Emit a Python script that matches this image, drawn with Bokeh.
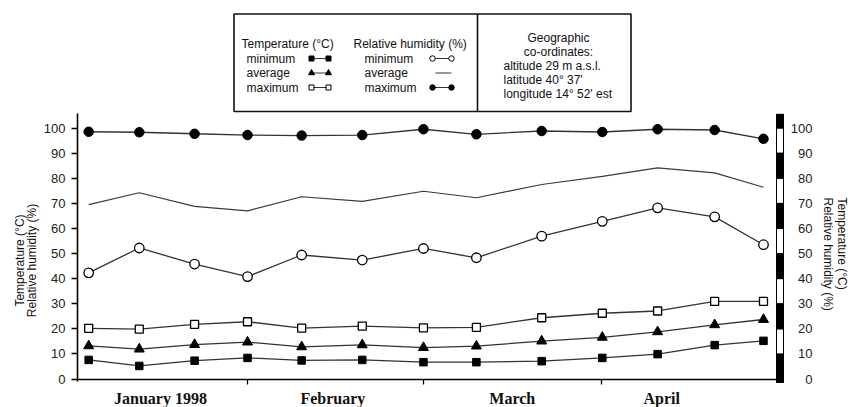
import math
from bokeh.plotting import figure
from bokeh.layouts import column
from bokeh.models import Range1d, LinearAxis, FixedTicker
from bokeh.core.properties import value
from bokeh.embed import file_html
from bokeh.resources import INLINE

# ---------------- data ----------------
days = [1.9, 10.5, 19.9, 28.9, 38.1, 48.4, 58.8, 67.8, 78.9, 89.2, 98.6, 108.3, 116.6]
rh_max = [98.5, 98.3, 97.7, 97.2, 97.0, 97.2, 99.5, 97.5, 98.8, 98.4, 99.5, 99.2, 95.7]
rh_avg = [69.5, 74.2, 68.8, 67.0, 72.6, 70.8, 74.8, 72.2, 77.5, 80.7, 84.1, 82.1, 76.4]
rh_min = [42.3, 52.2, 45.8, 40.8, 49.4, 47.4, 52.0, 48.3, 56.9, 62.8, 68.2, 64.6, 53.5]
t_max = [20.2, 19.9, 21.8, 22.8, 20.3, 21.1, 20.4, 20.6, 24.4, 26.2, 27.1, 30.9, 30.9]
t_avg = [13.2, 11.9, 13.7, 14.7, 12.8, 13.6, 12.5, 13.1, 15.1, 16.6, 18.8, 21.6, 23.7]
t_min = [7.6, 5.2, 7.3, 8.4, 7.4, 7.6, 6.7, 6.7, 7.1, 8.4, 9.9, 13.5, 15.2]

months = ["January 1998", "February", "March", "April"]
month_label_days = [14.1, 43.4, 73.9, 99.3]
month_bounds = [28.9, 58.8, 89.1]
y_ticks = list(range(0, 101, 10))
y_tick_labels = [str(v) for v in y_ticks]

legend_title_temp = "Temperature (°C)"
legend_title_rh = "Relative humidity (%)"
legend_rows = ["minimum", "average", "maximum"]
geo_lines_center = ["Geographic", "co-ordinates:"]
geo_lines_left = ["altitude 29 m a.s.l.", "latitude 40° 37'", "longitude 14° 52' est"]
axis_title_1 = "Temperature (°C)"
axis_title_2 = "Relative humidity (%)"

# ---------------- geometry (page pixels) ----------------
W = 848
TOP_H = 113
MAIN_H = 407 - TOP_H
FRAME_L = 77
X0 = 0.0
PX_PER_X = 706 / 120.0
Y_ZERO = 378.5
PX_PER_Y = 2.51


def dx(px):
    return X0 + (px - FRAME_L) / PX_PER_X


def dy(py):
    return (Y_ZERO - py) / PX_PER_Y


SANS = value("Liberation Sans")
SERIF = value("Liberation Serif")
TXT = "#111111"
LINE = "#333333"

# ================= top figure: legend box =================
# (its frame is aligned by the column layout with the main frame: page x 77..848)
top = figure(width=W, height=TOP_H, x_range=Range1d(FRAME_L, W), y_range=Range1d(TOP_H, 0),
             output_backend="svg", toolbar_location=None, title=None,
             x_axis_location=None, y_axis_location=None,
             min_border_left=FRAME_L, min_border_right=0, min_border_top=0, min_border_bottom=0)
top.outline_line_color = None
for g in top.grid:
    g.visible = False

top.quad(left=[233.5], right=[630.5], top=[13.5], bottom=[111], fill_color=None,
         line_color="#111111", line_width=1.6)
top.segment(x0=[477], y0=[13.5], x1=[477], y1=[111], line_color="#111111", line_width=1.6)

row_y = [58, 72.5, 87]
top.text(x=[241, 353], y=[43, 43], text=[legend_title_temp, legend_title_rh],
         text_font=SANS, text_font_size="12px", text_color=TXT,
         text_align="left", text_baseline="middle")
top.text(x=[246] * 3, y=row_y, text=legend_rows, text_font=SANS, text_font_size="12px",
         text_color=TXT, text_align="left", text_baseline="middle")
top.text(x=[364] * 3, y=row_y, text=legend_rows, text_font=SANS, text_font_size="12px",
         text_color=TXT, text_align="left", text_baseline="middle")

lx0, lx1 = 311, 328
rx0, rx1 = 432, 451
top.segment(x0=[lx0] * 3, y0=row_y, x1=[lx1] * 3, y1=row_y, line_color=LINE, line_width=1)
top.scatter([lx0, lx1], [row_y[0]] * 2, marker="square", size=5, fill_color="black", line_color="black")
top.scatter([lx0, lx1], [row_y[1]] * 2, marker="triangle", size=6, fill_color="black", line_color="black")
top.scatter([lx0, lx1], [row_y[2]] * 2, marker="square", size=5, fill_color="white",
            line_color="black", line_width=1)
top.segment(x0=[rx0, 435, rx0], y0=row_y, x1=[rx1] * 3, y1=row_y, line_color=LINE, line_width=1)
top.scatter([rx0, rx1], [row_y[0]] * 2, marker="circle", size=5.5, fill_color="white",
            line_color="black", line_width=1)
top.scatter([rx0, rx1], [row_y[2]] * 2, marker="circle", size=5.5, fill_color="black", line_color="black")

top.text(x=[558] * 2, y=[37, 51.5], text=geo_lines_center, text_font=SANS, text_font_size="12px",
         text_color=TXT, text_align="center", text_baseline="middle")
top.text(x=[503] * 3, y=[65.5, 79.5, 93.5], text=geo_lines_left, text_font=SANS,
         text_font_size="12px", text_color=TXT, text_align="left", text_baseline="middle")

# ================= main figure =================
p = figure(width=W, height=MAIN_H,
           x_range=Range1d(dx(FRAME_L), dx(W)), y_range=Range1d(dy(407), dy(TOP_H)),
           output_backend="svg", toolbar_location=None, title=None,
           x_axis_location=None, y_axis_location=None,
           min_border_left=FRAME_L, min_border_right=0, min_border_top=0, min_border_bottom=0)
p.outline_line_color = None
for g in p.grid:
    g.visible = False

# left axis with ticks and labels
yaxis = LinearAxis(ticker=FixedTicker(ticks=y_ticks), bounds=(dy(381), dy(113)))
yaxis.axis_line_width = 1.6
yaxis.axis_line_color = "black"
yaxis.major_tick_out = 6
yaxis.major_tick_in = 0
yaxis.major_tick_line_width = 1.3
yaxis.minor_tick_line_color = None
yaxis.major_label_standoff = 6
yaxis.major_label_text_font = "Liberation Sans"
yaxis.major_label_text_font_size = "13px"
yaxis.major_label_text_color = "#222222"
p.add_layout(yaxis, "left")


def title_axis(text, standoff):
    ax = LinearAxis(ticker=FixedTicker(ticks=[]))
    ax.axis_line_color = None
    ax.major_tick_line_color = None
    ax.minor_tick_line_color = None
    ax.major_tick_out = 0
    ax.major_tick_in = 0
    ax.major_label_standoff = 0
    ax.axis_label = text
    ax.axis_label_standoff = standoff
    ax.axis_label_text_font = "Liberation Sans"
    ax.axis_label_text_font_size = "12px"
    ax.axis_label_text_font_style = "normal"
    ax.axis_label_text_color = TXT
    return ax


p.add_layout(title_axis(axis_title_2, 2), "left")
p.add_layout(title_axis(axis_title_1, -5), "left")

# bottom axis line at y = 0 with month-boundary ticks
xaxis = LinearAxis(ticker=FixedTicker(ticks=[], minor_ticks=month_bounds),
                   fixed_location=0, bounds=(dx(72), dx(777)))
xaxis.axis_line_width = 1.6
xaxis.axis_line_color = "black"
xaxis.major_tick_line_color = None
xaxis.major_tick_out = 0
xaxis.major_tick_in = 0
xaxis.major_label_standoff = 0
xaxis.minor_tick_out = 5
xaxis.minor_tick_in = 0
xaxis.minor_tick_line_color = "black"
xaxis.minor_tick_line_width = 1.3
p.add_layout(xaxis, "below")

# month labels
p.text(x=month_label_days, y=[dy(389.5)] * len(months), text=months, text_font=SERIF,
       text_font_style="bold", text_font_size="16px", text_color="#111111",
       text_align="center", text_baseline="top")

# right striped bar
edges = [dy(382)] + y_ticks[1:] + [dy(113.6)]
bar_bottom = edges[:-1]
bar_top = edges[1:]
bar_fill = ["black" if i % 2 == 0 else "white" for i in range(len(bar_bottom))]
p.quad(left=[dx(776)] * len(bar_bottom), right=[dx(783)] * len(bar_bottom),
       bottom=bar_bottom, top=bar_top, fill_color=bar_fill, line_color="black", line_width=1)

# right tick labels
p.text(x=[dx(812)] * len(y_ticks), y=y_ticks, text=y_tick_labels, text_font=SANS,
       text_font_size="13px", text_color="#222222", text_align="right", text_baseline="middle")

# right titles
p.text(x=[dx(841), dx(827.5)], y=[dy(197), dy(197)], text=[axis_title_1, axis_title_2],
       angle=-math.pi / 2, text_font=SANS, text_font_size="12px", text_color=TXT,
       text_align="left", text_baseline="middle")

# ---------------- series ----------------
LW = 1.3
p.line(days, rh_max, line_color=LINE, line_width=LW)
p.scatter(days, rh_max, marker="circle", size=9.5, fill_color="black", line_color="black")

p.line(days, rh_avg, line_color="#3a3a3a", line_width=1.2)

p.line(days, rh_min, line_color=LINE, line_width=LW)
p.scatter(days, rh_min, marker="circle", size=9.5, fill_color="white", line_color="black", line_width=1.3)

p.line(days, t_max, line_color=LINE, line_width=LW)
p.scatter(days, t_max, marker="square", size=8, fill_color="white", line_color="black", line_width=1.3)

p.line(days, t_avg, line_color=LINE, line_width=LW)
p.scatter(days, t_avg, marker="triangle", size=10, fill_color="black", line_color="black")

p.line(days, t_min, line_color=LINE, line_width=LW)
p.scatter(days, t_min, marker="square", size=7.5, fill_color="black", line_color="black")

layout = column(top, p, spacing=0)
open("out.html", "w").write(file_html(layout, INLINE))
